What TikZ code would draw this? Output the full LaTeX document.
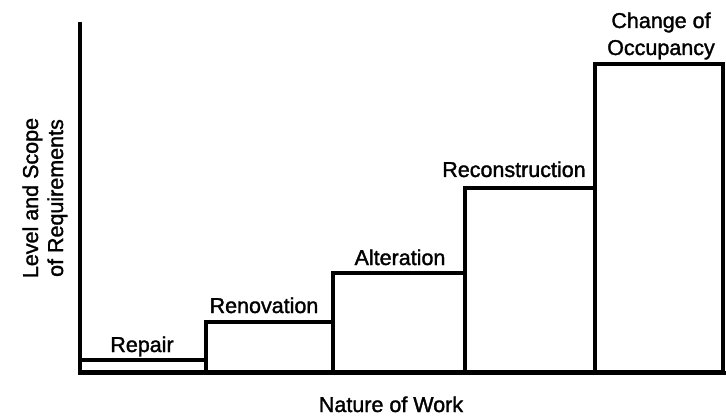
\documentclass[tikz,border=0pt]{standalone}
\usepackage{fontspec}
\setmainfont{Liberation Sans}
\newfontfamily\lblfont{Liberation Sans}[FakeBold=1.5]
\begin{document}
\begin{tikzpicture}[x=1pt,y=-1pt,
  lbl/.style={font=\lblfont\fontsize{21.5}{27}\selectfont, inner sep=0pt, anchor=base, align=center},
  bar/.style={draw=black, line width=3.2pt},
  axis/.style={draw=black, line width=3.4pt}]
\useasboundingbox (0,0) rectangle (726,417);
% bars
\draw[bar] (80,360) rectangle (206,372);
\draw[bar] (206,322) rectangle (333,372);
\draw[bar] (333,273) rectangle (465,372);
\draw[bar] (465,188) rectangle (595,372);
\draw[bar] (595,64) rectangle (723,372);
% axes
\draw[axis] (80,22) -- (80,373) -- (726,373);
% labels
\node[lbl] (repair) at (142,352) {Repair};
\node[lbl] (renov) at (264,313) {Renovation};
\node[lbl] (alter) at (400,265) {Alteration};
\node[lbl] (recon) at (514,177) {Reconstruction};
\node[lbl] (change) at (661,55) {Change of\\Occupancy};
\node[lbl, rotate=90] (ylab1) at (38,198) {Level and Scope};
\node[lbl, rotate=90] (ylab2) at (63,198) {of Requirements};
\node[lbl] (xlab) at (391,412) {Nature of Work};
\end{tikzpicture}
\end{document}
